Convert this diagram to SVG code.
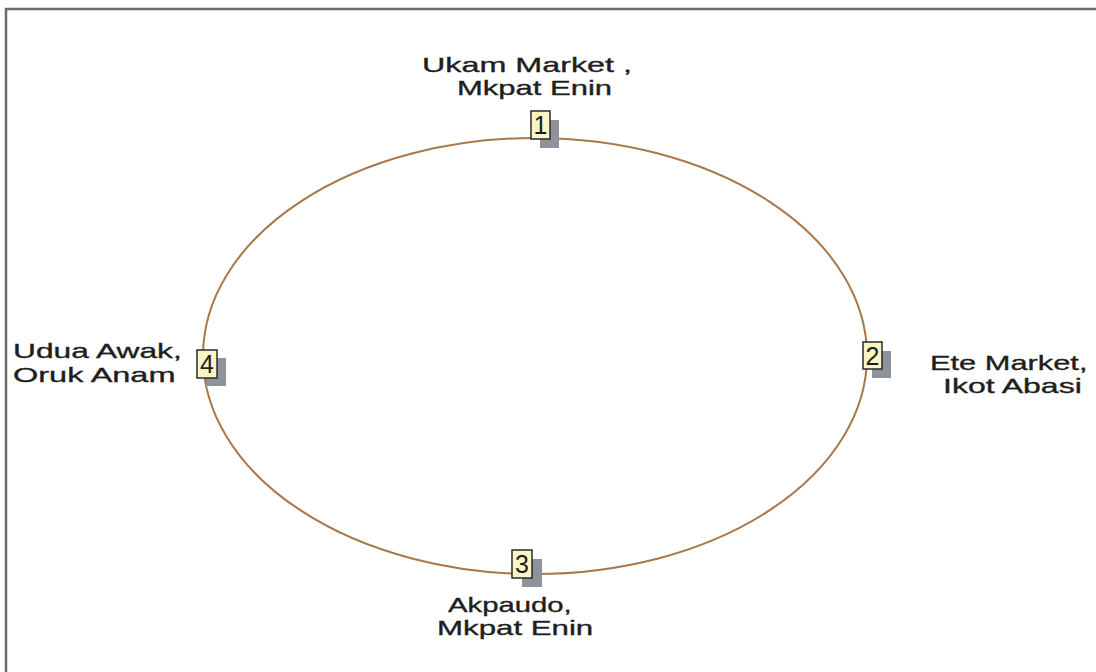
<svg xmlns="http://www.w3.org/2000/svg" width="1096" height="672" viewBox="0 0 1096 672">
<style>
.frame{fill:none;stroke:#6b6b6b;stroke-width:2.5}
.ring{fill:none;stroke:#a8784a;stroke-width:2}
.shadow{fill:#8e929b}
.box{fill:#f9f5c4;stroke:#2a2a2a;stroke-width:1.5}
.num{font-family:"Liberation Sans",Arial,sans-serif;font-size:25px;fill:#1e1e1e;text-anchor:middle}
.lbl{font-family:"Liberation Sans",Arial,sans-serif;font-size:21px;fill:#1e1e1e;stroke:#1e1e1e;stroke-width:0.35}
</style>
<rect width="1096" height="672" fill="#ffffff"/>
<path class="frame" d="M6,672 V9 H1096"/>
<g id="connectors">
<ellipse class="ring" cx="535" cy="356" rx="332" ry="218"/>
</g>
<g id="node1">
<rect class="shadow" x="540" y="120" width="19" height="28"/>
<rect class="box" x="531" y="111" width="19" height="28"/>
<text class="num" x="540.5" y="134">1</text>
<text class="lbl" transform="translate(422,72) scale(1.25,1)" textLength="168" lengthAdjust="spacingAndGlyphs">Ukam Market ,</text>
<text class="lbl" transform="translate(457,95) scale(1.25,1)" textLength="124" lengthAdjust="spacingAndGlyphs">Mkpat Enin</text>
</g>
<g id="node2">
<rect class="shadow" x="872" y="351" width="19" height="27"/>
<rect class="box" x="863" y="342" width="19" height="27"/>
<text class="num" x="872.5" y="365">2</text>
<text class="lbl" transform="translate(930,370) scale(1.25,1)" textLength="126" lengthAdjust="spacingAndGlyphs">Ete Market,</text>
<text class="lbl" transform="translate(943,393) scale(1.25,1)" textLength="111" lengthAdjust="spacingAndGlyphs">Ikot Abasi</text>
</g>
<g id="node3">
<rect class="shadow" x="522" y="559" width="20" height="28"/>
<rect class="box" x="512" y="550" width="20" height="28"/>
<text class="num" x="522" y="573">3</text>
<text class="lbl" transform="translate(448,612) scale(1.25,1)" textLength="99" lengthAdjust="spacingAndGlyphs">Akpaudo,</text>
<text class="lbl" transform="translate(437,635) scale(1.25,1)" textLength="125" lengthAdjust="spacingAndGlyphs">Mkpat Enin</text>
</g>
<g id="node4">
<rect class="shadow" x="206" y="358" width="20" height="28"/>
<rect class="box" x="197" y="350" width="20" height="28"/>
<text class="num" x="207" y="373">4</text>
<text class="lbl" transform="translate(13,358) scale(1.25,1)" textLength="135" lengthAdjust="spacingAndGlyphs">Udua Awak,</text>
<text class="lbl" transform="translate(13,382) scale(1.25,1)" textLength="130" lengthAdjust="spacingAndGlyphs">Oruk Anam</text>
</g>
</svg>
